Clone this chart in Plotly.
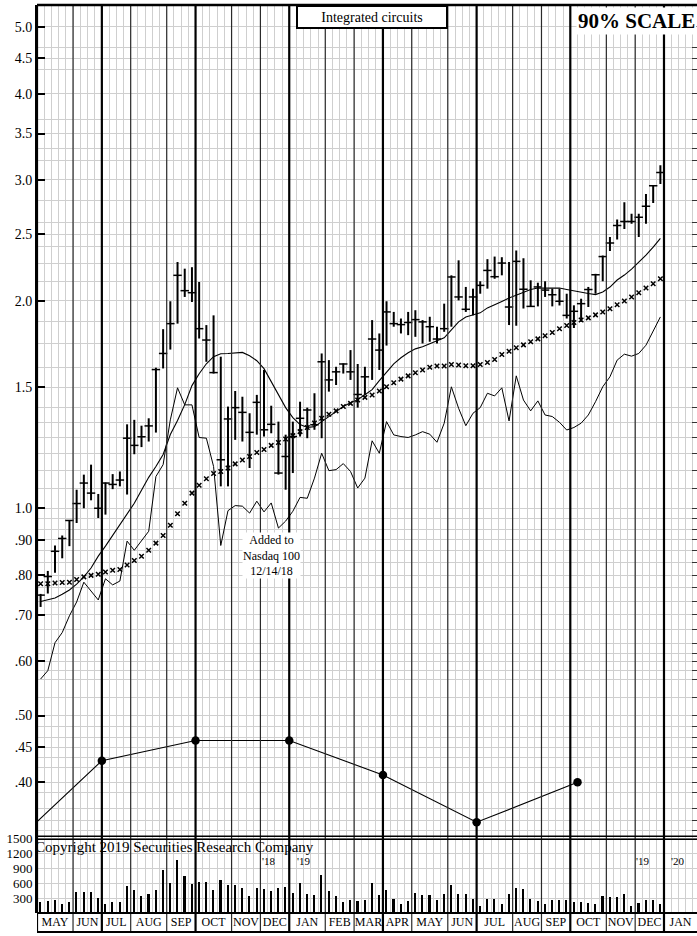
import math
import plotly.graph_objects as go

# Meses do eixo inferior e quantas barras semanais cabem em cada um
month_names = ["MAY", "JUN", "JUL", "AUG", "SEP", "OCT", "NOV", "DEC", "JAN", "FEB", "MAR",
               "APR", "MAY", "JUN", "JUL", "AUG", "SEP", "OCT", "NOV", "DEC", "JAN"]
weeks_per_month = [5, 4, 4, 5, 4, 5, 4, 4, 5, 4, 4, 4, 5, 4, 5, 4, 4, 5, 4, 4, 4.58]
quarter_months = ["JUL", "OCT", "JAN", "APR"]

# Barras semanais (maxima, minima, fechamento)
high = [0.751, 0.811, 0.883, 0.913, 0.961, 1.064, 1.119, 1.157, 1.049, 1.090,
        1.121, 1.131, 1.324, 1.344, 1.318, 1.351, 1.600, 1.820, 1.998, 2.278,
        2.228, 2.239, 2.131, 1.845, 1.906, 1.660, 1.405, 1.480, 1.452, 1.374,
        1.461, 1.588, 1.409, 1.336, 1.279, 1.336, 1.428, 1.400, 1.469, 1.678,
        1.641, 1.605, 1.623, 1.697, 1.620, 1.605, 1.876, 1.794, 1.998, 1.928,
        1.886, 1.928, 1.939, 1.876, 1.897, 1.835, 1.982, 2.179, 2.291, 2.096,
        2.084, 2.136, 2.300, 2.320, 2.315, 2.278, 2.368, 2.307, 2.143, 2.126,
        2.136, 2.084, 2.084, 2.049, 1.971, 2.015, 2.096, 2.190, 2.328, 2.476,
        2.626, 2.781, 2.676, 2.676, 2.859, 2.946, 3.149]
low = [0.719, 0.752, 0.806, 0.846, 0.881, 0.952, 1.000, 1.027, 0.968, 0.979,
       1.066, 1.076, 1.047, 1.198, 1.227, 1.250, 1.288, 1.596, 1.700, 1.854,
       2.027, 1.993, 1.764, 1.632, 1.569, 1.076, 1.076, 1.257, 1.250, 1.144,
       1.279, 1.271, 1.285, 1.119, 1.064, 1.125, 1.271, 1.264, 1.300, 1.264,
       1.477, 1.510, 1.569, 1.536, 1.400, 1.461, 1.536, 1.588, 1.723, 1.835,
       1.794, 1.784, 1.774, 1.735, 1.745, 1.735, 1.804, 1.835, 2.004, 1.928,
       1.906, 2.049, 2.084, 2.154, 2.179, 1.845, 1.841, 1.950, 1.960, 1.964,
       2.027, 1.964, 1.970, 1.886, 1.827, 1.865, 1.960, 2.049, 2.136, 2.363,
       2.457, 2.545, 2.588, 2.476, 2.588, 2.775, 2.957]
close = [0.748, 0.796, 0.866, 0.904, 0.960, 1.016, 1.088, 1.052, 1.000, 1.088,
         1.083, 1.099, 1.264, 1.234, 1.270, 1.317, 1.590, 1.678, 1.854, 2.179,
         2.070, 2.056, 1.823, 1.755, 1.574, 1.176, 1.348, 1.400, 1.378, 1.289,
         1.425, 1.300, 1.324, 1.125, 1.189, 1.271, 1.351, 1.389, 1.322, 1.632,
         1.536, 1.578, 1.620, 1.578, 1.463, 1.552, 1.761, 1.697, 1.928, 1.854,
         1.848, 1.861, 1.879, 1.865, 1.835, 1.761, 1.823, 2.167, 2.027, 1.945,
         2.027, 2.107, 2.215, 2.169, 2.270, 1.960, 2.283, 2.080, 1.964, 2.096,
         2.074, 2.042, 1.998, 1.906, 1.932, 1.982, 2.078, 2.183, 2.320, 2.427,
         2.574, 2.608, 2.608, 2.647, 2.745, 2.940, 3.073]

# Media movel curta (linha continua) e longa (marcas x)
ma_short = [0.732, 0.736, 0.741, 0.750, 0.761, 0.776, 0.795, 0.819, 0.852, 0.881,
            0.914, 0.945, 0.983, 1.017, 1.062, 1.109, 1.150, 1.197, 1.280, 1.341,
            1.414, 1.507, 1.568, 1.621, 1.660, 1.676, 1.678, 1.682, 1.684, 1.665,
            1.638, 1.595, 1.527, 1.457, 1.400, 1.354, 1.323, 1.310, 1.314, 1.336,
            1.359, 1.382, 1.405, 1.423, 1.438, 1.462, 1.487, 1.532, 1.573, 1.621,
            1.654, 1.682, 1.704, 1.716, 1.733, 1.750, 1.768, 1.816, 1.865, 1.896,
            1.909, 1.922, 1.954, 1.973, 1.997, 2.020, 2.040, 2.061, 2.078, 2.088,
            2.088, 2.088, 2.088, 2.078, 2.067, 2.061, 2.050, 2.043, 2.061, 2.095,
            2.145, 2.181, 2.225, 2.278, 2.331, 2.394, 2.466]
ma_long = [0.777, 0.777, 0.779, 0.780, 0.781, 0.788, 0.795, 0.799, 0.802, 0.808,
           0.813, 0.815, 0.827, 0.840, 0.852, 0.869, 0.890, 0.913, 0.945, 0.982,
           1.017, 1.052, 1.080, 1.104, 1.123, 1.131, 1.144, 1.160, 1.175, 1.189,
           1.205, 1.217, 1.234, 1.246, 1.261, 1.275, 1.292, 1.310, 1.330, 1.351,
           1.369, 1.385, 1.405, 1.420, 1.436, 1.449, 1.460, 1.480, 1.501, 1.521,
           1.540, 1.557, 1.573, 1.588, 1.602, 1.609, 1.609, 1.617, 1.615, 1.610,
           1.610, 1.617, 1.628, 1.644, 1.672, 1.690, 1.710, 1.727, 1.745, 1.762,
           1.780, 1.800, 1.822, 1.842, 1.861, 1.877, 1.890, 1.909, 1.928, 1.949,
           1.975, 2.000, 2.027, 2.056, 2.088, 2.118, 2.154]

# Linha de forca relativa
rel_strength = [0.565, 0.581, 0.638, 0.660, 0.698, 0.731, 0.781, 0.759, 0.736, 0.790,
                0.774, 0.784, 0.896, 0.869, 0.896, 0.926, 1.112, 1.157, 1.344, 1.496,
                1.413, 1.413, 1.267, 1.264, 1.150, 0.883, 0.992, 1.009, 1.007, 0.984,
                1.024, 0.988, 1.018, 0.936, 0.958, 0.990, 1.037, 1.034, 1.106, 1.202,
                1.134, 1.138, 1.161, 1.131, 1.070, 1.106, 1.253, 1.202, 1.336, 1.278,
                1.271, 1.267, 1.278, 1.292, 1.281, 1.247, 1.329, 1.501, 1.397, 1.318,
                1.374, 1.400, 1.469, 1.456, 1.496, 1.339, 1.557, 1.436, 1.385, 1.432,
                1.366, 1.359, 1.333, 1.299, 1.310, 1.329, 1.366, 1.428, 1.501, 1.552,
                1.641, 1.674, 1.663, 1.678, 1.725, 1.804, 1.896]

# Volume semanal (milhares)
volume = [210, 230, 265, 185, 210, 410, 425, 425, 300, 185,
          225, 225, 545, 465, 330, 385, 465, 865, 600, 1065,
          745, 580, 620, 620, 465, 665, 565, 565, 500, 345,
          500, 480, 445, 490, 510, 400, 600, 380, 365, 765,
          430, 330, 210, 250, 245, 250, 600, 365, 465, 280,
          180, 230, 400, 365, 365, 265, 385, 560, 370, 380,
          285, 145, 285, 285, 185, 380, 500, 485, 285, 245,
          185, 250, 265, 265, 220, 220, 200, 185, 345, 320,
          310, 385, 130, 200, 265, 250, 185]

# Lucros trimestrais (semana em que cada ponto aparece)
earn_week = [-4, 9, 22, 35, 48, 61, 75]
earn_value = [0.32, 0.43, 0.46, 0.46, 0.41, 0.35, 0.40]

price_ticks = [5.0, 4.5, 4.0, 3.5, 3.0, 2.5, 2.0, 1.5, 1.0, 0.9, 0.8, 0.7, 0.6, 0.5, 0.45, 0.4]
price_tick_text = ["5.0", "4.5", "4.0", "3.5", "3.0", "2.5", "2.0", "1.5", "1.0",
                   ".90", ".80", ".70", ".60", ".50", ".45", ".40"]
price_grid = [0.341, 0.352, 0.367, 0.386, 0.421, 0.435, 0.465, 0.482, 0.532, 0.565,
              0.581, 0.615, 0.636, 0.666, 0.733, 0.767, 0.833, 0.867, 0.933, 0.967,
              1.067, 1.133, 1.2, 1.267, 1.333, 1.4, 1.6, 1.733, 1.867, 2.133, 2.267,
              2.4, 2.6, 2.8, 3.2, 3.333, 3.667, 4.333, 4.667]
volume_ticks = [300, 600, 900, 1200, 1500]

SERIF = "Liberation Serif"
GRID = "#cfcfcf"
PLOT_H = 911          # altura da area dos paineis, em px
VOL_TOP = 77 / PLOT_H  # fração ocupada pelo painel de volume
PRICE_RANGE = [math.log10(0.334), math.log10(5.38)]

x_week = [i + 0.5 for i in range(len(close))]
x_end = sum(weeks_per_month)

# barras high-low como segmentos separados por None
bar_x, bar_y = [], []
for xw, hi, lo in zip(x_week, high, low):
    bar_x += [xw, xw, None]
    bar_y += [lo, hi, None]

fig = go.Figure()

fig.add_trace(go.Scatter(x=bar_x, y=bar_y, mode="lines",
                         line=dict(color="black", width=2), hoverinfo="skip"))
fig.add_trace(go.Scatter(x=x_week, y=close, mode="markers",
                         marker=dict(symbol="line-ew", size=6,
                                     line=dict(color="black", width=1.5))))
fig.add_trace(go.Scatter(x=x_week, y=ma_short, mode="lines",
                         line=dict(color="black", width=1.1)))
fig.add_trace(go.Scatter(x=x_week, y=ma_long, mode="markers",
                         marker=dict(symbol="x-thin", size=4.5,
                                     line=dict(color="black", width=1.5))))
# forca relativa no eixo espelhado da direita (mesma escala)
fig.add_trace(go.Scatter(x=x_week, y=rel_strength, mode="lines", yaxis="y3",
                         line=dict(color="black", width=1)))
fig.add_trace(go.Scatter(x=earn_week, y=earn_value, mode="lines+markers",
                         line=dict(color="black", width=1.1),
                         marker=dict(symbol="circle", size=8.5, color="black")))
fig.add_trace(go.Bar(x=x_week, y=volume, width=0.22, marker=dict(color="black", line_width=0),
                     xaxis="x2", yaxis="y2"))

# centro de cada mes para os rotulos
month_start = []
acc = 0
for w in weeks_per_month:
    month_start.append(acc)
    acc += w
month_center = [s + w / 2 for s, w in zip(month_start, weeks_per_month)]

shapes = []
row_bottom = -19 / PLOT_H
for name, s in zip(month_names, month_start):
    thick = name in quarter_months or s == 0
    shapes.append(dict(type="line", xref="x", yref="paper", x0=s, x1=s,
                       y0=row_bottom, y1=1,
                       line=dict(color="black" if thick else "#2a2a2a",
                                 width=2.2 if thick else 1.2)))
for yy, w in [(1, 2.5), (VOL_TOP, 1.5), (VOL_TOP - 3 / PLOT_H, 1.5), (0, 2), (row_bottom, 2)]:
    shapes.append(dict(type="line", xref="paper", yref="paper", x0=0, x1=1,
                       y0=yy, y1=yy, line=dict(color="black", width=w)))

annotations = [
    dict(text="Integrated circuits", xref="paper", yref="paper", x=0.5076, y=1,
         xanchor="center", yanchor="top", showarrow=False, font=dict(size=14, family=SERIF),
         bgcolor="white", bordercolor="black", borderwidth=2, width=146, height=18),
    dict(text="<b>90% SCALE</b>", xref="paper", yref="paper", x=1, y=0.998,
         xanchor="right", yanchor="top", showarrow=False,
         font=dict(size=21, family=SERIF), bgcolor="white", borderpad=1),
    dict(text="Added to<br>Nasdaq 100<br>12/14/18", xref="x", yref="y",
         x=32.5, y=math.log10(0.855), xanchor="center", yanchor="middle", showarrow=False,
         font=dict(size=12, family=SERIF), bgcolor="white", borderpad=0),
    dict(text="Copyright 2019 Securities Research Company", xref="paper", yref="paper",
         x=-0.006, y=(913 - 847) / PLOT_H, xanchor="left", yanchor="middle", showarrow=False,
         font=dict(size=15, family=SERIF)),
]
for label, xp in [("'18", 268), ("'19", 303), ("'19", 642), ("'20", 677)]:
    annotations.append(dict(text=label, xref="paper", yref="paper",
                            x=(xp - 37) / 660, y=(913 - 861) / PLOT_H,
                            xanchor="center", yanchor="middle",
                            showarrow=False, font=dict(size=11, family=SERIF)))

fig.update_layout(
    width=697, height=936,
    margin=dict(l=37, r=0, t=2, b=23),
    paper_bgcolor="white", plot_bgcolor="white",
    showlegend=False, bargap=0,
    font=dict(family=SERIF, color="black"),
    shapes=shapes, annotations=annotations,
    xaxis=dict(domain=[0, 1], anchor="y", range=[0, x_end], tick0=0, dtick=1,
               showgrid=True, gridcolor=GRID, gridwidth=1.3, showticklabels=False,
               ticks="", zeroline=False, matches="x2"),
    yaxis=dict(domain=[VOL_TOP, 1], type="log", range=PRICE_RANGE,
               tickmode="array", tickvals=price_ticks, ticktext=price_tick_text,
               ticks="inside", ticklen=8, tickwidth=1.5, tickcolor="black",
               tickfont=dict(size=14, family=SERIF),
               showgrid=True, gridcolor=GRID, gridwidth=1.3,
               minor=dict(tickmode="array", tickvals=price_grid, showgrid=True,
                          gridcolor=GRID, gridwidth=1.3, ticks=""),
               showline=True, linecolor="black", linewidth=2, zeroline=False),
    yaxis3=dict(overlaying="y", side="right", anchor="x", type="log", range=PRICE_RANGE,
                tickmode="array", tickvals=price_ticks + price_grid, showticklabels=False,
                ticks="inside", ticklen=5, tickwidth=1.2, tickcolor="#333",
                showgrid=False, showline=False, zeroline=False),
    xaxis2=dict(domain=[0, 1], anchor="y2", range=[0, x_end],
                tickmode="array", tickvals=month_center, ticktext=month_names,
                ticks="", showgrid=False, tickfont=dict(size=12, family=SERIF),
                minor=dict(tick0=0, dtick=1, showgrid=True, gridcolor=GRID, gridwidth=1.3),
                zeroline=False),
    yaxis2=dict(domain=[0, VOL_TOP], range=[0, 1540],
                tickmode="array", tickvals=volume_ticks, ticks="",
                tickfont=dict(size=13, family=SERIF),
                showgrid=True, gridcolor=GRID, gridwidth=1.3,
                showline=True, linecolor="black", linewidth=2, zeroline=False),
)

# remove a margem padrao do <body> e a barra de ferramentas
fig.write_html("out.html", config={"displayModeBar": False},
               post_script="document.body.style.margin='0';")
